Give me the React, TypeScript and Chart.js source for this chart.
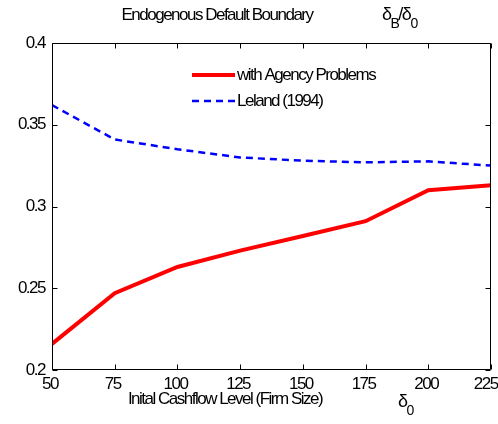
import React, { useEffect, useRef } from "react";
import { Chart, registerables } from "chart.js";
Chart.register(...registerables);

const xValues = [50, 75, 100, 125, 150, 175, 200, 225];
const agencySeries = [0.216, 0.247, 0.263, 0.273, 0.282, 0.291, 0.31, 0.313];
const lelandSeries = [0.362, 0.341, 0.335, 0.33, 0.328, 0.327, 0.3276, 0.325];
const seriesLabels = ["with Agency Problems", "Leland (1994)"];
const xTickValues = [50, 75, 100, 125, 150, 175, 200, 225];
const xTickLabels = ["50", "75", "100", "125", "150", "175", "200", "225"];
const yTickValues = [0.2, 0.25, 0.3, 0.35, 0.4];
const yTickLabels = ["0.2", "0.25", "0.3", "0.35", "0.4"];
const titleText = "Endogenous Default Boundary";
const xAxisTitle = "Inital Cashflow Level (Firm Size)";

const FAMILY = '"Liberation Sans", Arial, sans-serif';
const SPACING = "-1.5px";
const FS = 17;

const deco = {
  id: "deco",
  beforeDraw(chart: any) {
    (chart.ctx as any).letterSpacing = SPACING;
  },
  afterDraw(chart: any) {
    const ctx = chart.ctx as CanvasRenderingContext2D;
    const a = chart.chartArea;
    const xs = chart.scales.x;
    const ys = chart.scales.y;
    ctx.save();
    (ctx as any).letterSpacing = SPACING;
    ctx.strokeStyle = "#000";
    ctx.lineWidth = 1;
    const L = Math.round(a.left) + 0.5;
    const R = Math.round(a.right) - 0.5;
    const T = Math.round(a.top) + 0.5;
    const B = Math.round(a.bottom) - 0.5;
    ctx.beginPath();
    ctx.rect(L, T, R - L, B - T);
    xTickValues.forEach((v) => {
      const px = Math.round(xs.getPixelForValue(v)) + 0.5;
      ctx.moveTo(px, B);
      ctx.lineTo(px, B - 5);
      ctx.moveTo(px, T);
      ctx.lineTo(px, T + 5);
    });
    yTickValues.forEach((v) => {
      const py = Math.round(ys.getPixelForValue(v)) + 0.5;
      ctx.moveTo(L, py);
      ctx.lineTo(L + 5, py);
      ctx.moveTo(R, py);
      ctx.lineTo(R - 5, py);
    });
    ctx.stroke();

    // legend
    const ds = chart.data.datasets;
    const legendRows = [75, 101];
    ds.forEach((d: any, i: number) => {
      const y = legendRows[i];
      ctx.save();
      ctx.strokeStyle = d.borderColor;
      ctx.lineWidth = d.borderWidth;
      ctx.setLineDash(d.borderDash || []);
      ctx.beginPath();
      ctx.moveTo(192, y);
      ctx.lineTo(235, y);
      ctx.stroke();
      ctx.restore();
      ctx.fillStyle = "#000";
      ctx.font = FS + "px " + FAMILY;
      ctx.textAlign = "left";
      ctx.textBaseline = "middle";
      ctx.fillText(d.label, 237, y);
    });

    // title
    ctx.fillStyle = "#000";
    ctx.font = FS + "px " + FAMILY;
    ctx.textAlign = "center";
    ctx.textBaseline = "middle";
    ctx.fillText(titleText, 217, 15);
    ctx.fillText(xAxisTitle, 225, 399);

    // delta_B / delta_0
    const drawSub = (parts: [string, boolean][], x: number, base: number) => {
      ctx.textAlign = "left";
      ctx.textBaseline = "alphabetic";
      let cx = x;
      parts.forEach(([t, sub]) => {
        ctx.font = (sub ? "14px " : "18px ") + FAMILY;
        ctx.fillText(t, cx, sub ? base + 8 : base);
        cx += ctx.measureText(t).width;
      });
    };
    drawSub([["δ", false], ["B", true], ["/δ", false], ["0", true]], 382, 20);
    drawSub([["δ", false], ["0", true]], 398, 407);
    ctx.restore();
  },
};

export default function App() {
  const ref = useRef<HTMLCanvasElement | null>(null);
  useEffect(() => {
    if (!ref.current) return;
    const chart = new Chart(ref.current, {
      type: "line",
      data: {
        datasets: [
          {
            label: seriesLabels[0],
            data: xValues.map((x, i) => ({ x, y: agencySeries[i] })),
            borderColor: "#ff0000",
            borderWidth: 4,
            pointRadius: 0,
            tension: 0,
          },
          {
            label: seriesLabels[1],
            data: xValues.map((x, i) => ({ x, y: lelandSeries[i] })),
            borderColor: "#0000ff",
            borderWidth: 2.5,
            borderDash: [7, 5],
            pointRadius: 0,
            tension: 0,
          },
        ],
      },
      options: {
        responsive: false,
        animation: false,
        devicePixelRatio: 1,
        layout: { autoPadding: false, padding: { left: 0, top: 43, right: 7, bottom: 0 } },
        plugins: { legend: { display: false }, tooltip: { enabled: false }, title: { display: false } },
        scales: {
          x: {
            type: "linear",
            min: 50,
            max: 225,
            afterBuildTicks: (s: any) => {
              s.ticks = xTickValues.map((v) => ({ value: v }));
            },
            afterFit: (s: any) => {
              s.height = 54;
              s.paddingLeft = 0;
              s.paddingRight = 0;
            },
            grid: { display: false, drawTicks: false },
            border: { display: false },
            ticks: {
              padding: 4,
              labelOffset: -2,
              color: "#000",
              font: { family: FAMILY, size: FS },
              maxRotation: 0,
              autoSkip: false,
              callback: (v: any) => {
                const idx = xTickValues.indexOf(Number(v));
                if (idx < 0) return "";
                // keep the last label inside the canvas, as in the reference
                return idx === xTickValues.length - 1 ? xTickLabels[idx] + "\u00a0\u00a0" : xTickLabels[idx];
              },
            },
          },
          y: {
            type: "linear",
            min: 0.2,
            max: 0.4,
            afterBuildTicks: (s: any) => {
              s.ticks = yTickValues.map((v) => ({ value: v }));
            },
            afterFit: (s: any) => {
              s.width = 52;
              s.paddingTop = 0;
              s.paddingBottom = 0;
            },
            grid: { display: false, drawTicks: false },
            border: { display: false },
            ticks: {
              padding: 7,
              color: "#000",
              font: { family: FAMILY, size: FS },
              autoSkip: false,
              callback: (v: any) => {
                const idx = yTickValues.findIndex((t) => Math.abs(t - Number(v)) < 1e-9);
                return idx >= 0 ? yTickLabels[idx] : "";
              },
            },
          },
        },
      },
      plugins: [deco],
    });
    return () => chart.destroy();
  }, []);
  return (
    <div style={{ position: "fixed", left: 0, top: 0, width: 498, height: 424, background: "#fff" }}>
      <canvas ref={ref} width={498} height={424} style={{ display: "block" }} />
    </div>
  );
}
